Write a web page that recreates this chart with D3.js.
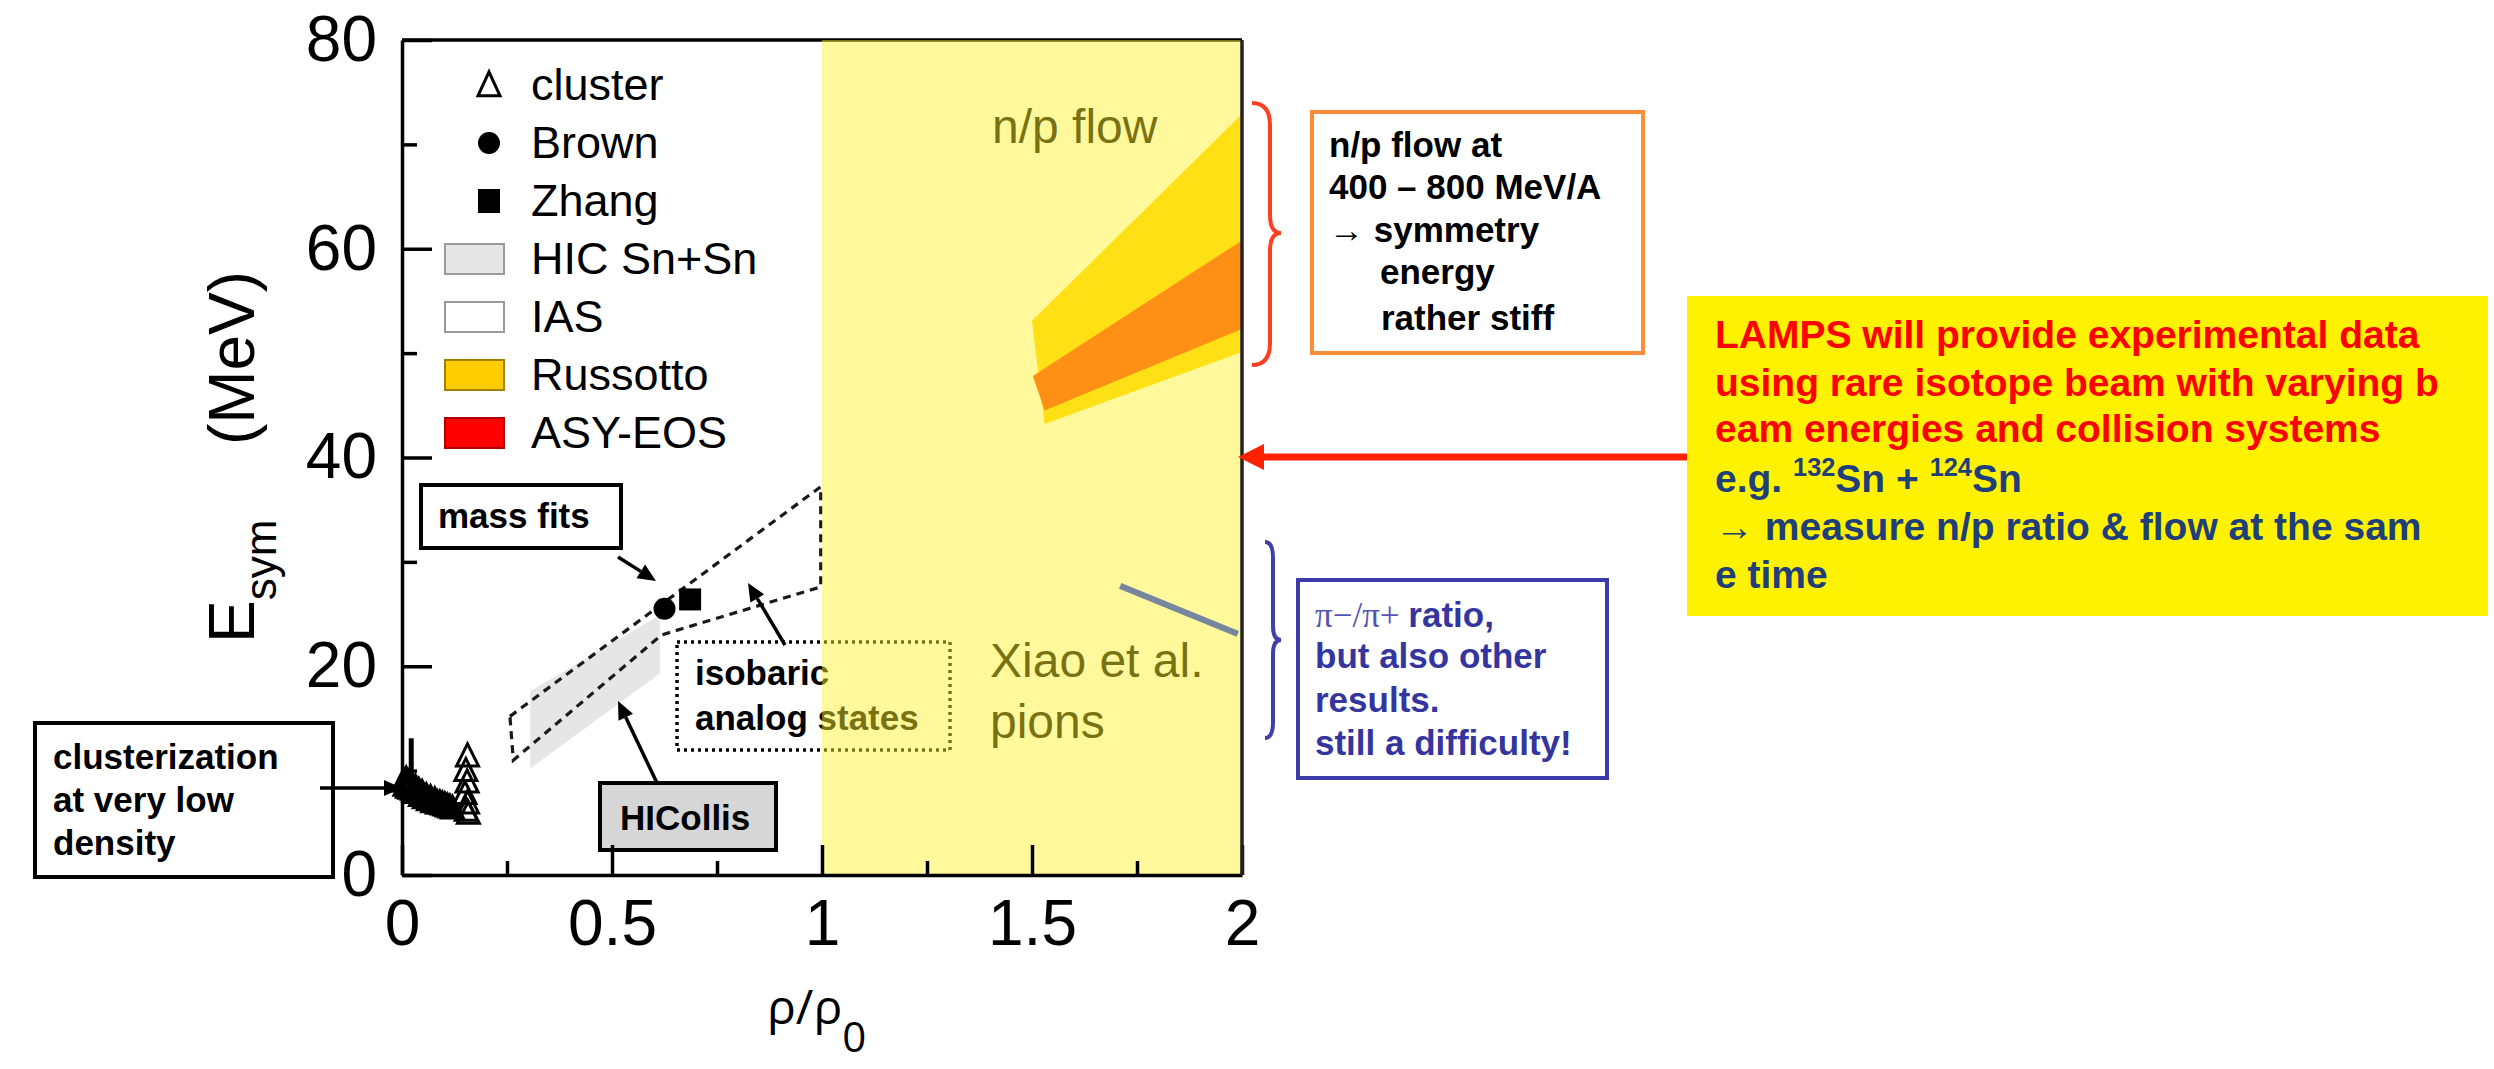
<!doctype html>
<html lang="en">
  <head>
    <meta charset="UTF-8" />
    <title>Symmetry energy vs density</title>
    <style>
      html, body { margin: 0; padding: 0; background: #fff; }
      svg { display: block; font-family: "Liberation Sans", Arial, sans-serif; }
    </style>
  </head>
  <body>
    <svg id="chart" width="2494" height="1069"></svg>

    <script src="https://cdn.jsdelivr.net/npm/d3@7"></script>
    <script>
      // axis ticks
      const xTicks = [0, 0.5, 1, 1.5, 2];
      const xTickLabels = ["0", "0.5", "1", "1.5", "2"];
      const xMinorTicks = [0.25, 0.75, 1.25, 1.75];
      const yTicks = [0, 20, 40, 60, 80];
      const yMinorTicks = [10, 30, 50, 70];

      // cluster calculations (open triangles)
      const clusterRho = [0.004, 0.007, 0.010, 0.013, 0.016, 0.019, 0.022, 0.025, 0.028, 0.032, 0.036, 0.040, 0.044, 0.048,
        0.053, 0.058, 0.063, 0.068, 0.073, 0.078, 0.084, 0.090, 0.096, 0.102, 0.108, 0.114, 0.120,
        0.156, 0.152, 0.155, 0.150, 0.156, 0.153, 0.158];
      const clusterEsym = [9.0, 8.6, 9.2, 8.4, 8.9, 8.3, 8.8, 8.2, 8.0, 8.4, 7.9, 8.1, 7.6, 7.9,
        7.4, 7.6, 7.2, 7.4, 7.0, 7.2, 6.9, 6.9, 6.8, 6.7, 6.6, 6.5, 6.4,
        11.4, 10.0, 8.9, 7.8, 6.9, 6.2, 5.9];
      const clusterBarRho = [0.022];
      const clusterBarLow = [9.0];
      const clusterBarHigh = [13.1];

      // mass fits
      const brownRho = [0.625];
      const brownEsym = [25.5];
      const zhangRho = [0.686];
      const zhangEsym = [26.4];

      // HIC Sn+Sn band
      const hicRho = [0.305, 0.614];
      const hicLow = [10.2, 19.3];
      const hicHigh = [17.6, 24.9];

      // IAS contour (dashed)
      const iasUpperRho = [0.257, 0.997];
      const iasUpperEsym = [15.2, 37.2];
      const iasLowerRho = [0.265, 0.618, 0.997];
      const iasLowerEsym = [11.0, 23.0, 27.6];

      // n/p flow bands
      const russottoUpperRho = [1.50, 2.0];
      const russottoUpperEsym = [53.1, 72.9];
      const russottoLowerRho = [1.53, 2.0];
      const russottoLowerEsym = [43.2, 50.1];
      const asyeosUpperRho = [1.502, 2.0];
      const asyeosUpperEsym = [47.8, 60.8];
      const asyeosLowerRho = [1.53, 2.0];
      const asyeosLowerEsym = [44.5, 52.3];

      // Xiao et al. pions
      const xiaoRho = [1.71, 1.99];
      const xiaoEsym = [27.7, 23.1];

      const legendLabels = ["cluster", "Brown", "Zhang", "HIC Sn+Sn", "IAS", "Russotto", "ASY-EOS"];

      const svg = d3.select("#chart");
      const x = d3.scaleLinear().domain([0, 2]).range([402, 1242]);
      const y = d3.scaleLinear().domain([0, 80]).range([875, 40]);

      const triPath = (cx, cy, w, h) =>
        `M${cx},${cy - h * 0.55}L${cx + w / 2},${cy + h * 0.45}L${cx - w / 2},${cy + h * 0.45}Z`;

      const band = (upR, upE, loR, loE) => {
        const pts = upR.map((r, i) => [x(r), y(upE[i])]);
        loR.map((r, i) => [x(r), y(loE[i])]).reverse().forEach(p => pts.push(p));
        return "M" + pts.join("L") + "Z";
      };

      const arrow = (g, x1, y1, x2, y2, color, width, headLen, headW) => {
        const a = Math.atan2(y2 - y1, x2 - x1);
        const bx = x2 - headLen * Math.cos(a), by = y2 - headLen * Math.sin(a);
        g.append("line").attr("x1", x1).attr("y1", y1).attr("x2", bx).attr("y2", by)
          .attr("stroke", color).attr("stroke-width", width);
        const px = Math.sin(a) * headW, py = -Math.cos(a) * headW;
        g.append("path")
          .attr("d", `M${x2},${y2}L${bx + px},${by + py}L${bx - px},${by - py}Z`)
          .attr("fill", color);
      };

      const textBlock = (g, x0, baselines, lines, opts) => {
        lines.forEach((line, i) => {
          const t = g.append("text").attr("x", x0[i] ?? x0[0]).attr("y", baselines[i])
            .attr("font-size", opts.size).attr("font-weight", opts.weight || "bold")
            .attr("fill", opts.color[i] || opts.color[0]);
          const segs = typeof line === "string" ? [{ t: line }] : line;
          segs.forEach(s => {
            const sp = t.append("tspan").text(s.t);
            if (s.sup) sp.attr("font-size", opts.size * 0.65).attr("dy", -opts.size * 0.4);
            if (s.after) sp.attr("dy", opts.size * 0.4);
            if (s.serif) sp.attr("font-family", "Liberation Serif, serif").attr("font-weight", "normal")
              .attr("fill", s.color);
            if (s.thin) sp.attr("font-weight", "normal");
          });
        });
      };

      const plot = svg.append("g");

      // HIC band and IAS contour
      plot.append("path")
        .attr("d", band(hicRho, hicHigh, hicRho, hicLow))
        .attr("fill", "#e6e6e6");
      plot.append("path")
        .attr("d", band(iasUpperRho, iasUpperEsym, iasLowerRho, iasLowerEsym))
        .attr("fill", "none").attr("stroke", "#1a1a1a").attr("stroke-width", 3.2)
        .attr("stroke-dasharray", "8,6");

      // n/p flow bands
      plot.append("path")
        .attr("d", band(russottoUpperRho, russottoUpperEsym, russottoLowerRho, russottoLowerEsym))
        .attr("fill", "#ffd000");
      plot.append("path")
        .attr("d", band(asyeosUpperRho, asyeosUpperEsym, asyeosLowerRho, asyeosLowerEsym))
        .attr("fill", "#ff3a00");

      // cluster points
      plot.selectAll("line.bar").data(clusterBarRho).enter().append("line")
        .attr("x1", d => x(d)).attr("x2", d => x(d))
        .attr("y1", (d, i) => y(clusterBarLow[i])).attr("y2", (d, i) => y(clusterBarHigh[i]))
        .attr("stroke", "#000").attr("stroke-width", 5);
      plot.selectAll("path.cluster").data(clusterRho).enter().append("path")
        .attr("d", (d, i) => triPath(x(d), y(clusterEsym[i]), 22, 22))
        .attr("fill", "none").attr("stroke", "#000").attr("stroke-width", 3);

      plot.selectAll("circle.brown").data(brownRho).enter().append("circle")
        .attr("cx", d => x(d)).attr("cy", (d, i) => y(brownEsym[i])).attr("r", 11).attr("fill", "#000");
      plot.selectAll("rect.zhang").data(zhangRho).enter().append("rect")
        .attr("x", d => x(d) - 11).attr("y", (d, i) => y(zhangEsym[i]) - 11)
        .attr("width", 22).attr("height", 22).attr("fill", "#000");

      // legend
      const leg = plot.append("g");
      const legRows = [85, 143, 201, 259, 317, 375, 433];
      const legFills = [null, null, null, "#e6e6e6", "#ffffff", "#ffcc00", "#ff0000"];
      const legStrokes = [null, null, null, "#9a9a9a", "#9a9a9a", "#a08000", "#b00000"];
      legendLabels.forEach((label, i) => {
        const cy = legRows[i];
        if (i === 0) leg.append("path").attr("d", triPath(489, cy, 22, 24)).attr("fill", "none")
          .attr("stroke", "#000").attr("stroke-width", 3);
        else if (i === 1) leg.append("circle").attr("cx", 489).attr("cy", cy).attr("r", 11).attr("fill", "#000");
        else if (i === 2) leg.append("rect").attr("x", 478).attr("y", cy - 12).attr("width", 22).attr("height", 24).attr("fill", "#000");
        else leg.append("rect").attr("x", 445).attr("y", cy - 15).attr("width", 59).attr("height", 30)
          .attr("fill", legFills[i]).attr("stroke", legStrokes[i]).attr("stroke-width", 2);
        leg.append("text").attr("x", 531).attr("y", cy + 15).attr("font-size", 45).text(label);
      });

      // annotations inside the frame
      const ann = plot.append("g");
      ann.append("rect").attr("x", 421).attr("y", 485).attr("width", 200).attr("height", 63)
        .attr("fill", "#fff").attr("stroke", "#000").attr("stroke-width", 4);
      textBlock(ann, [438], [528], ["mass fits"], { size: 35, color: ["#000"] });
      arrow(ann, 618, 557, 656, 581, "#000", 3.5, 18, 8);

      ann.append("rect").attr("x", 677).attr("y", 642).attr("width", 273).attr("height", 108)
        .attr("fill", "none").attr("stroke", "#000").attr("stroke-width", 3.5).attr("stroke-dasharray", "3,4");
      textBlock(ann, [695], [685, 730], ["isobaric", "analog states"], { size: 35, color: ["#000"] });
      arrow(ann, 785, 645, 748, 583, "#000", 3.5, 18, 8);

      ann.append("rect").attr("x", 600).attr("y", 783).attr("width", 176).attr("height", 67)
        .attr("fill", "#d6d6d6").attr("stroke", "#000").attr("stroke-width", 4);
      textBlock(ann, [620], [830], ["HICollis"], { size: 35, color: ["#000"] });
      arrow(ann, 657, 783, 618, 701, "#000", 3.5, 18, 8);

      ann.append("text").attr("x", 992).attr("y", 143).attr("font-size", 48).text("n/p flow");
      ann.append("text").attr("x", 990).attr("y", 677).attr("font-size", 48).text("Xiao et al.");
      ann.append("text").attr("x", 990).attr("y", 738).attr("font-size", 48).text("pions");

      // top frame line sits under the highlight
      plot.append("line").attr("x1", 402).attr("x2", 1242).attr("y1", 40).attr("y2", 40)
        .attr("stroke", "#000").attr("stroke-width", 3.5);

      // yellow highlight for rho/rho0 > 1
      plot.append("rect")
        .attr("x", x(1)).attr("y", y(80)).attr("width", x(2) - x(1)).attr("height", y(0) - y(80))
        .attr("fill", "rgb(255,242,45)").attr("fill-opacity", 0.47);

      // axes
      const xAxisG = svg.append("g").attr("transform", `translate(0,${y(0)})`)
        .call(d3.axisBottom(x).tickValues(xTicks).tickFormat((d, i) => xTickLabels[i])
          .tickSizeInner(-30).tickSizeOuter(0).tickPadding(0));
      xAxisG.append("g")
        .call(d3.axisBottom(x).tickValues(xMinorTicks).tickFormat("").tickSizeInner(-14).tickSizeOuter(0))
        .select(".domain").remove();
      xAxisG.selectAll("text").attr("y", 70).attr("dy", null)
        .attr("font-size", 64).attr("font-family", "Liberation Sans, Arial, sans-serif");

      const yAxisG = svg.append("g").attr("transform", `translate(${x(0)},0)`)
        .call(d3.axisLeft(y).tickValues(yTicks).tickSizeInner(-30).tickSizeOuter(0).tickPadding(25));
      yAxisG.append("g")
        .call(d3.axisLeft(y).tickValues(yMinorTicks).tickFormat("").tickSizeInner(-15).tickSizeOuter(0))
        .select(".domain").remove();
      yAxisG.selectAll("text").attr("font-size", 64).attr("font-family", "Liberation Sans, Arial, sans-serif");

      svg.selectAll(".tick line").attr("stroke-width", 3.5);
      svg.selectAll(".domain").attr("stroke-width", 3.5);
      svg.append("line").attr("x1", x(2)).attr("x2", x(2)).attr("y1", y(80)).attr("y2", y(0))
        .attr("stroke", "#222").attr("stroke-width", 3.5);

      // pion line over the highlight
      svg.append("path")
        .attr("d", d3.line()(xiaoRho.map((r, i) => [x(r), y(xiaoEsym[i])])))
        .attr("stroke", "#76869e").attr("stroke-width", 6).attr("fill", "none");

      // axis titles
      svg.append("text").attr("x", 767).attr("y", 1024).attr("font-size", 48)
        .attr("font-family", "Open Sans, sans-serif")
        .text("ρ/ρ").append("tspan").attr("font-size", 42).attr("dy", 28).text("0");

      const yTitle = svg.append("text").attr("transform", "translate(254,643) rotate(-90)")
        .attr("font-size", 64);
      yTitle.append("tspan").text("E");
      yTitle.append("tspan").attr("font-size", 44).attr("dy", 22).text("sym");
      svg.append("text").attr("transform", "translate(254,358) rotate(-90)")
        .attr("font-size", 64).attr("text-anchor", "middle").text("(MeV)");

      // side annotations
      const side = svg.append("g");
      side.append("rect").attr("x", 35).attr("y", 723).attr("width", 298).attr("height", 154)
        .attr("fill", "#fff").attr("stroke", "#000").attr("stroke-width", 4);
      textBlock(side, [53], [769, 812, 855], ["clusterization", "at very low", "density"], { size: 35, color: ["#000"] });
      arrow(side, 320, 788, 402, 788, "#000", 3.5, 18, 8);

      side.append("path")
        .attr("d", "M1252,103Q1270,103 1270,125L1270,215Q1270,233 1281,233Q1270,233 1270,251L1270,343Q1270,365 1252,365")
        .attr("fill", "none").attr("stroke", "#ff4020").attr("stroke-width", 4);
      side.append("rect").attr("x", 1312).attr("y", 112).attr("width", 331).attr("height", 241)
        .attr("fill", "#fff").attr("stroke", "#ff8c3a").attr("stroke-width", 4);
      textBlock(side, [1329, 1329, 1329, 1380, 1381], [157, 199, 242, 284, 330],
        ["n/p flow at", "400 – 800 MeV/A", "→ symmetry", "energy", "rather stiff"], { size: 35, color: ["#000"] });

      side.append("path")
        .attr("d", "M1265,542Q1273,542 1273,558L1273,626Q1273,640 1281,640Q1273,640 1273,654L1273,722Q1273,738 1265,738")
        .attr("fill", "none").attr("stroke", "#4040a8").attr("stroke-width", 4);
      side.append("rect").attr("x", 1298).attr("y", 580).attr("width", 309).attr("height", 198)
        .attr("fill", "#fff").attr("stroke", "#3b3baa").attr("stroke-width", 4);
      textBlock(side, [1315], [627, 668, 712, 755],
        [[{ t: "π−/π+ ", serif: true, color: "#5555b5" }, { t: "ratio," }], "but also other", "results.", "still a difficulty!"],
        { size: 35, color: ["#3535a0"] });

      arrow(side, 1689, 457, 1238, 457, "#ff2200", 7, 26, 13);

      side.append("rect").attr("x", 1687).attr("y", 296).attr("width", 801).attr("height", 320).attr("fill", "#fff200");
      textBlock(side, [1715], [348, 396, 442, 492, 540, 588],
        ["LAMPS will provide experimental data", "using rare isotope beam with varying b", "eam energies and collision systems",
          [{ t: "e.g. " }, { t: "132", sup: true }, { t: "Sn + ", after: true }, { t: "124", sup: true }, { t: "Sn", after: true }],
          [{ t: "→ ", thin: true }, { t: "measure n/p ratio & flow at the sam" }], "e time"],
        { size: 39, color: ["#ff0000", "#ff0000", "#ff0000", "#1f3f7a", "#1f3f7a", "#1f3f7a"] });
    </script>
  </body>
</html>
